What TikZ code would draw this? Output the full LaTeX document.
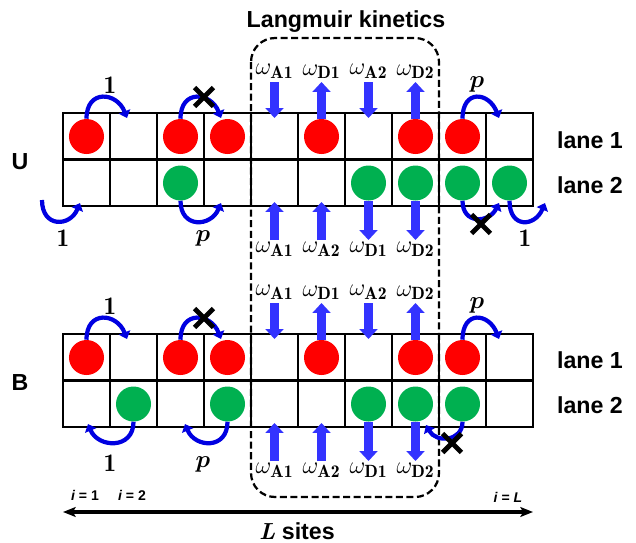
\documentclass[tikz,border=0pt]{standalone}
\usepackage{amsmath}
\usepackage{fontspec}
\setsansfont{Liberation Sans}
\usetikzlibrary{arrows.meta}
\usetikzlibrary{shapes.misc}
\usetikzlibrary{positioning}

\begin{document}
\begin{tikzpicture}[x=0.025cm, y=-0.025cm, every node/.style={inner sep=0pt},
	cell/.style={line width=1.6pt, line cap=rect},
	redp/.style={circle, fill=pred, minimum size=0.875cm},
	greenp/.style={circle, fill=pgreen, minimum size=0.875cm},
	kin/.style={kblue, line width=7pt, -{Triangle[width=12.5pt,length=7pt]}},
	hop/.style={hblue, line width=3pt, -{Triangle[width=8.5pt,length=5pt]}},
	blockx/.style={draw, cross out, line width=3.5pt, minimum size=0.35cm},
	rate/.style={font=\fontsize{18}{20}\selectfont},
	lab/.style={font=\sffamily\bfseries\fontsize{16.5}{19}\selectfont},
	idx/.style={font=\sffamily\bfseries\fontsize{10}{12}\selectfont}]
		% Two-lane lattice with Langmuir kinetics, unbiased (U) and biased (B)

% Colors
\definecolor{pred}{RGB}{255,0,0}
\definecolor{pgreen}{RGB}{0,176,80}
\definecolor{kblue}{RGB}{51,51,255}
\definecolor{hblue}{RGB}{0,0,225}

\useasboundingbox (0,0) rectangle (636,542);

% Outline
\foreach \p/\yy in {U/113,B/334}{
	\foreach \r in {0,1,2}
		\draw[cell] (63,\yy+46.5*\r) -- (533,\yy+46.5*\r);
	\foreach \i in {0,...,10}
		\draw[cell] (63+47*\i,\yy) -- (63+47*\i,\yy+93);
	\foreach \i in {1,...,10}{
		\coordinate (\p-1-\i) at (39.5+47*\i,\yy+23.5);
		\coordinate (\p-2-\i) at (39.5+47*\i,\yy+70);
		\coordinate (\p-up\i) at (39.5+47*\i,\yy-31);
		\coordinate (\p-in\i) at (39.5+47*\i,\yy+5);
		\coordinate (\p-dn\i) at (39.5+47*\i,\yy+127);
		\coordinate (\p-out\i) at (39.5+47*\i,\yy+89);
	}
}

% Nodes
\foreach \i in {1,3,4,6,8,9}{
	\node[redp] (U-r\i) at (U-1-\i) {};
	\node[redp] (B-r\i) at (B-1-\i) {};
}
\foreach \i in {3,7,8,9,10}
	\node[greenp] (U-g\i) at (U-2-\i) {};
\foreach \i in {2,4,7,8,9}
	\node[greenp] (B-g\i) at (B-2-\i) {};

% Langmuir box
\draw[line width=1.6pt, dash pattern=on 5pt off 2.5pt, rounded corners=0.6cm] (251,38) rectangle (439,497);
\node[lab, anchor=base] (title) at (346,27) {Langmuir kinetics};

% Attachment and detachment
\foreach \p in {U,B}{
	\draw[kin] (\p-up5) -- (\p-in5);
	\draw[kin] (\p-r6.north) -- (\p-up6);
	\draw[kin] (\p-up7) -- (\p-in7);
	\draw[kin] (\p-r8.north) -- (\p-up8);
	\draw[kin] (\p-dn5) -- (\p-out5);
	\draw[kin] (\p-dn6) -- (\p-out6);
	\draw[kin] (\p-g7.south) -- (\p-dn7);
	\draw[kin] (\p-g8.south) -- (\p-dn8);
	\node[rate, above=2pt of \p-up5] (\p-wa5) {$\omega_{\mathbf{A1}}$};
	\node[rate, above=2pt of \p-up6] (\p-wd6) {$\omega_{\mathbf{D1}}$};
	\node[rate, above=2pt of \p-up7] (\p-wa7) {$\omega_{\mathbf{A2}}$};
	\node[rate, above=2pt of \p-up8] (\p-wd8) {$\omega_{\mathbf{D2}}$};
	\node[rate, below=1.5pt of \p-dn5] (\p-va5) {$\omega_{\mathbf{A1}}$};
	\node[rate, below=1.5pt of \p-dn6] (\p-va6) {$\omega_{\mathbf{A2}}$};
	\node[rate, below=1.5pt of \p-dn7] (\p-vd7) {$\omega_{\mathbf{D1}}$};
	\node[rate, below=1.5pt of \p-dn8] (\p-vd8) {$\omega_{\mathbf{D2}}$};
}

% Hops in lane 1
\foreach \p/\dy in {U/0,B/221}{
	\coordinate (\p-h1) at (127,118+\dy);
	\coordinate (\p-h3) at (221,118+\dy);
	\coordinate (\p-h9) at (499,118+\dy);
	\draw[hop] (\p-r1.north) .. controls +(0,-30) and +(-10,-26) .. (\p-h1);
	\draw[hop] (\p-r3.north) .. controls +(0,-30) and +(-10,-26) .. (\p-h3);
	\draw[hop] (\p-r9.north) .. controls +(0,-30) and +(-10,-26) .. (\p-h9);
	\node[rate] (\p-k1) at (110,85+\dy) {$\mathbf{1}$};
	\node[blockx] (\p-x3) at (204,97+\dy) {};
	\node[rate] (\p-k9) at (477,84+\dy) {$\boldsymbol{p}$};
}

% Hops in lane 2, U
\coordinate (U-in) at (42,200);
\coordinate (U-h0) at (80,203);
\coordinate (U-h3b) at (221,203);
\coordinate (U-h9b) at (499,203);
\coordinate (U-h10b) at (545,203);
\draw[hop] (U-in) .. controls +(0,28) and +(-10,24) .. (U-h0);
\draw[hop] (U-g3.south) .. controls +(0,28) and +(-10,24) .. (U-h3b);
\draw[hop] (U-g9.south) .. controls +(0,24) and +(-10,20) .. (U-h9b);
\draw[hop] (U-g10.south) .. controls +(0,28) and +(-10,24) .. (U-h10b);
\node[rate] (U-k0) at (63,238) {$\mathbf{1}$};
\node[rate] (U-k3) at (203,238) {$\boldsymbol{p}$};
\node[blockx] (U-x9) at (481,224) {};
\node[rate] (U-k10) at (525,238) {$\mathbf{1}$};

% Hops in lane 2, B
\coordinate (B-h2b) at (88,424);
\coordinate (B-h4b) at (185,424);
\coordinate (B-h9b) at (426,425);
\draw[hop] (B-g2.south) .. controls +(0,28) and +(10,24) .. (B-h2b);
\draw[hop] (B-g4.south) .. controls +(0,28) and +(10,24) .. (B-h4b);
\draw[hop] (B-g9.south) .. controls +(0,20) and +(10,18) .. (B-h9b);
\node[rate] (B-k2) at (110,463) {$\mathbf{1}$};
\node[rate] (B-k4) at (203,464) {$\boldsymbol{p}$};
\node[blockx] (B-x9) at (452,443) {};

% Legend
\node[lab] (U) at (20,162) {U};
\node[lab] (B) at (20,383) {B};
\node[lab] (U-lane1) at (590,140) {lane 1};
\node[lab] (U-lane2) at (590,185) {lane 2};
\node[lab] (B-lane1) at (590,360) {lane 1};
\node[lab] (B-lane2) at (590,405) {lane 2};

\node[idx] (i1) at (85,495) {{\itshape i} = 1};
\node[idx] (i2) at (132,495) {{\itshape i} = 2};
\node[idx] (iL) at (508,497) {{\itshape i} = {\itshape L}};
\coordinate (Lend) at (63,512);
\coordinate (Rend) at (533,512);
\draw[line width=2.2pt, {Stealth[length=9pt,width=7pt,inset=2pt]}-{Stealth[length=9pt,width=7pt,inset=2pt]}] (Lend) -- (Rend);
\node[lab, anchor=base] (sites) at (297,539) {{\rmfamily\bfseries\itshape L} sites};
\end{tikzpicture}
\end{document}
